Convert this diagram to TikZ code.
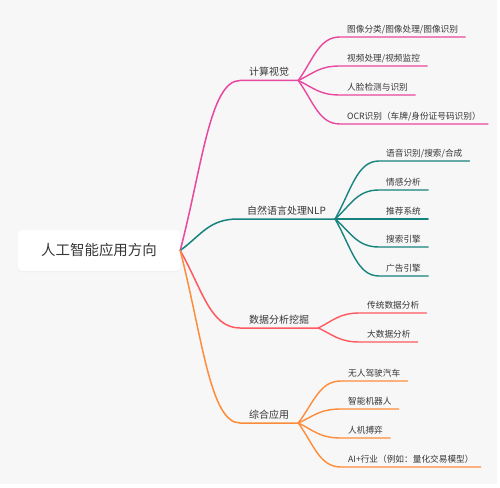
\documentclass[tikz,border=0pt]{standalone}
\usepackage{fontspec}
\setmainfont{Noto Sans CJK SC}
\usetikzlibrary{calc,shadows}
\definecolor{bg}{HTML}{F7F7F7}
\definecolor{txt}{HTML}{363636}
\definecolor{cvpink}{HTML}{E8489D}
\definecolor{nlpteal}{HTML}{16837F}
\definecolor{datared}{HTML}{FF5A5F}
\definecolor{apporange}{HTML}{FF8C3A}
\begin{document}
\begin{tikzpicture}[
            x = 1bp, y = -1bp, % pixel units, y downwards
            line cap = round, % round line ends
            bough/.style = {to path = {let \p1 = (\tikztostart), \p2 = (\tikztotarget) in
                .. controls ({\x1+0.37*(\x2-\x1)}, {\y1+0.5*(\y2-\y1)}) and ({\x1+0.5*(\x2-\x1)}, \y2) .. (\tikztotarget)}},
            topic/.style = {anchor = south west, inner xsep = 9bp, inner ysep = 3bp,
                text height = 7bp, text depth = 1.5bp, text = txt, font = \fontsize{10}{12}\selectfont},
            leaf/.style = {anchor = south west, inner xsep = 7bp, inner ysep = 3bp,
                text height = 6bp, text depth = 1.5bp, text = txt, font = \fontsize{8.7}{10}\selectfont},
            main/.style = {line width = 1.5bp},
            twig/.style = {line width = 1.4bp},
        ]
        \useasboundingbox (0,0) rectangle (500,488);
        \fill[bg] (0,0) rectangle (497,484);
        % root
        \node[fill = white, rounded corners = 4bp, minimum width = 162bp, minimum height = 41bp,
            drop shadow = {shadow xshift = 0bp, shadow yshift = -1bp, opacity = 0.08},
            text = txt, font = \fontsize{14.5}{17}\selectfont] (root) at (99,250.5) {人工智能应用方向};
        % main topics
        \node[topic] (cv) at (240,80.5) {计算视觉};
        \node[topic] (nlp) at (238,219) {自然语言处理NLP};
        \node[topic] (data) at (240,328) {数据分析挖掘};
        \node[topic] (app) at (240,423) {综合应用};
        \draw[cvpink, main] (root.east) to[bough] (cv.south west) -- (cv.south east);
        \draw[nlpteal, main] (root.east) to[bough] (nlp.south west) -- (nlp.south east);
        \draw[datared, main] (root.east) to[bough] (data.south west) -- (data.south east);
        \draw[apporange, main] (root.east) to[bough] (app.south west) -- (app.south east);
        % computer vision
        \node[leaf] (cv1) at (340,37) {图像分类/图像处理/图像识别};
        \node[leaf] (cv2) at (340,66) {视频处理/视频监控};
        \node[leaf] (cv3) at (340,95) {人脸检测与识别};
        \node[leaf] (cv4) at (340,124) {OCR识别（车牌/身份证号码识别）};
        \draw[cvpink, twig] (cv.south east) to[bough] (cv1.south west) -- (cv1.south east);
        \draw[cvpink, twig] (cv.south east) to[bough] (cv2.south west) -- (cv2.south east);
        \draw[cvpink, twig] (cv.south east) to[bough] (cv3.south west) -- (cv3.south east);
        \draw[cvpink, twig] (cv.south east) to[bough] (cv4.south west) -- (cv4.south east);
        % nlp
        \node[leaf] (nlp1) at (379,161) {语音识别/搜索/合成};
        \node[leaf] (nlp2) at (379,190) {情感分析};
        \node[leaf] (nlp3) at (379,219) {推荐系统};
        \node[leaf] (nlp4) at (379,247) {搜索引擎};
        \node[leaf] (nlp5) at (379,276) {广告引擎};
        \draw[nlpteal, twig] (nlp.south east) to[bough] (nlp1.south west) -- (nlp1.south east);
        \draw[nlpteal, twig] (nlp.south east) to[bough] (nlp2.south west) -- (nlp2.south east);
        \draw[nlpteal, twig] (nlp.south east) -- (nlp3.south west) -- (nlp3.south east);
        \draw[nlpteal, twig] (nlp.south east) to[bough] (nlp4.south west) -- (nlp4.south east);
        \draw[nlpteal, twig] (nlp.south east) to[bough] (nlp5.south west) -- (nlp5.south east);
        % data mining
        \node[leaf] (data1) at (360,313) {传统数据分析};
        \node[leaf] (data2) at (360,342) {大数据分析};
        \draw[datared, twig] (data.south east) to[bough] (data1.south west) -- (data1.south east);
        \draw[datared, twig] (data.south east) to[bough] (data2.south west) -- (data2.south east);
        % applications
        \node[leaf] (app1) at (341,381) {无人驾驶汽车};
        \node[leaf] (app2) at (341,409) {智能机器人};
        \node[leaf] (app3) at (341,438) {人机搏弈};
        \node[leaf] (app4) at (341,467) {AI+行业（例如：量化交易模型）};
        \draw[apporange, twig] (app.south east) to[bough] (app1.south west) -- (app1.south east);
        \draw[apporange, twig] (app.south east) to[bough] (app2.south west) -- (app2.south east);
        \draw[apporange, twig] (app.south east) to[bough] (app3.south west) -- (app3.south east);
        \draw[apporange, twig] (app.south east) to[bough] (app4.south west) -- (app4.south east);
        \end{tikzpicture}
\end{document}
